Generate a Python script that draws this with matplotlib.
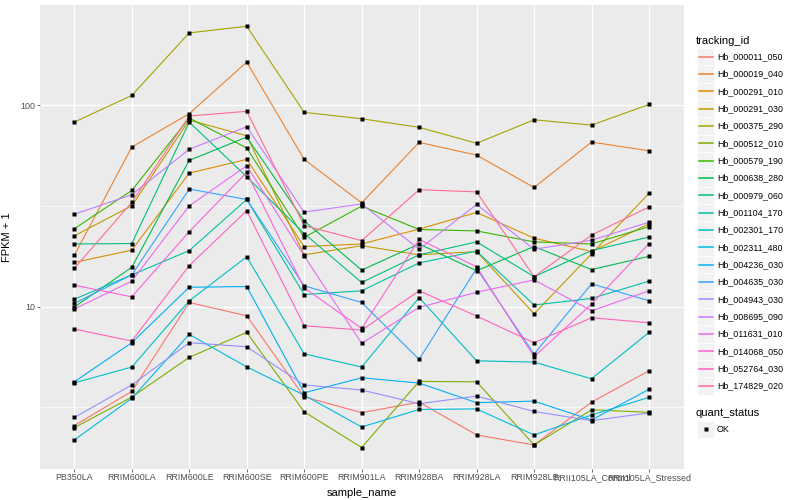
import matplotlib.pyplot as plt
import matplotlib.lines as mlines
import matplotlib.patches as mpatches
from matplotlib.ticker import FixedLocator, NullFormatter
import numpy as np

plt.rcParams['font.family'] = ['Liberation Sans', 'DejaVu Sans']

samples = ["PB350LA", "RRIM600LA", "RRIM600LE", "RRIM600SE", "RRIM600PE", "RRIM901LA",
           "RRIM928BA", "RRIM928LA", "RRIM928LE", "RRII105LA_Control", "RRII105LA_Stressed"]

tracking_ids = ["Hb_000011_050", "Hb_000019_040", "Hb_000291_010", "Hb_000291_030",
                "Hb_000375_290", "Hb_000512_010", "Hb_000579_190", "Hb_000638_280",
                "Hb_000979_060", "Hb_001104_170", "Hb_002301_170", "Hb_002311_480",
                "Hb_004236_030", "Hb_004635_030", "Hb_004943_030", "Hb_008695_090",
                "Hb_011631_010", "Hb_014068_050", "Hb_052764_030", "Hb_174829_020"]

# ggplot hue palette, 20 levels
colors = ["#F8766D", "#EA8331", "#D89000", "#C09B00", "#A3A500", "#7CAE00", "#39B600",
          "#00BB4E", "#00BF7D", "#00C1A3", "#00BFC4", "#00BAE0", "#00B0F6", "#35A2FF",
          "#9590FF", "#C77CFF", "#E76BF3", "#FA62DB", "#FF62BC", "#FF6C91"]

# FPKM + 1, one list per gene, in sample order
hb_000011_050 = [2.57, 3.80, 10.5, 9.02, 3.57, 2.98, 3.36, 2.31, 2.06, 3.36, 4.81]
hb_000019_040 = [18.0, 62.1, 90.9, 164, 53.9, 32.8, 65.5, 56.6, 39.1, 65.7, 59.5]
hb_000291_010 = [16.6, 19.1, 46.1, 53.9, 19.9, 20.5, 24.3, 29.4, 21.9, 18.8, 25.8]
hb_000291_030 = [22.5, 31.7, 84.5, 70.6, 18.1, 20.1, 18.1, 18.8, 9.23, 18.3, 36.6]
hb_000375_290 = [82.6, 112, 229, 247, 92.3, 85.8, 77.8, 64.8, 84.8, 79.8, 101]
hb_000512_010 = [2.51, 3.56, 5.61, 7.46, 3.01, 2.00, 4.26, 4.24, 2.06, 3.08, 2.99]
hb_000579_190 = [24.4, 37.8, 86.5, 61.4, 22.1, 31.6, 24.2, 23.8, 21.0, 20.5, 25.0]
hb_000638_280 = [9.97, 15.7, 53.3, 69.6, 26.7, 15.2, 20.5, 15.1, 19.9, 15.3, 17.8]
hb_000979_060 = [20.5, 20.6, 82.6, 44.2, 23.1, 13.2, 18.1, 21.0, 14.1, 19.0, 22.2]
hb_001104_170 = [10.9, 14.4, 19.0, 34.1, 11.5, 12.0, 16.5, 18.9, 10.2, 11.0, 13.4]
hb_002301_170 = [4.19, 5.02, 10.7, 17.7, 5.84, 5.02, 11.1, 5.39, 5.31, 4.39, 7.46]
hb_002311_480 = [2.18, 3.51, 7.29, 5.03, 3.64, 2.53, 3.09, 3.11, 2.31, 2.90, 3.55]
hb_004236_030 = [4.24, 6.63, 12.5, 12.6, 3.74, 4.44, 4.18, 3.34, 3.40, 2.74, 3.89]
hb_004635_030 = [10.4, 14.4, 38.4, 34.1, 12.7, 10.5, 5.48, 15.5, 5.82, 13.0, 10.7]
hb_004943_030 = [2.82, 4.09, 6.63, 6.33, 4.09, 3.86, 3.30, 3.60, 3.02, 2.72, 2.97]
hb_008695_090 = [28.8, 36.0, 60.5, 78.3, 29.5, 32.4, 19.3, 32.2, 19.3, 21.4, 26.3]
hb_011631_010 = [9.74, 13.4, 31.7, 50.1, 17.9, 6.58, 9.93, 11.8, 13.6, 9.55, 12.0]
hb_014068_050 = [12.8, 11.2, 23.6, 46.5, 12.4, 7.81, 21.6, 15.8, 5.65, 10.3, 20.6]
hb_052764_030 = [7.75, 6.76, 16.0, 30.0, 8.05, 7.66, 12.0, 8.99, 6.63, 8.82, 8.33]
hb_174829_020 = [15.5, 33.0, 88.5, 93.4, 25.3, 21.3, 38.1, 37.2, 14.1, 22.7, 31.3]

series = [hb_000011_050, hb_000019_040, hb_000291_010, hb_000291_030, hb_000375_290,
          hb_000512_010, hb_000579_190, hb_000638_280, hb_000979_060, hb_001104_170,
          hb_002301_170, hb_002311_480, hb_004236_030, hb_004635_030, hb_004943_030,
          hb_008695_090, hb_011631_010, hb_014068_050, hb_052764_030, hb_174829_020]

W, H = 800, 500
fig = plt.figure(figsize=(8, 5), dpi=100)
ax = fig.add_axes([39.8 / W, 1 - 468.6 / H, (683.5 - 39.8) / W, (468.6 - 5.2) / H])
ax.set_facecolor('#EBEBEB')

x = np.arange(len(samples))
for vals, c in zip(series, colors):
    ax.plot(x, vals, color=c, lw=0.8, zorder=2)
for vals in series:
    ax.plot(x, vals, 's', color='black', ms=2.8, mec='none', zorder=3)

ax.set_yscale('log')
lo = np.log10(min(min(s) for s in series))
hi = np.log10(max(max(s) for s in series))
pad = 0.05 * (hi - lo)
ax.set_ylim(10 ** (lo - pad), 10 ** (hi + pad))
ax.set_xlim(-0.6, len(samples) - 0.4)

ax.set_yticks([10, 100])
ax.set_yticklabels(["10", "100"])
ax.yaxis.set_minor_locator(FixedLocator([10 ** 0.5, 10 ** 1.5, 10 ** 2.5]))
ax.yaxis.set_minor_formatter(NullFormatter())
ax.set_xticks(x)
ax.set_xticklabels(samples)

ax.grid(which='major', color='white', lw=1.0)
ax.grid(which='minor', axis='y', color='white', lw=0.5)
ax.set_axisbelow(True)
for s in ax.spines.values():
    s.set_visible(False)
ax.tick_params(which='major', length=2, width=0.5, color='#333333',
               labelsize=6.4, labelcolor='#4D4D4D', pad=1.5)
ax.tick_params(which='minor', length=0)

ax.set_xlabel("sample_name", fontsize=8)
ax.set_ylabel("FPKM + 1", fontsize=8)
ax.xaxis.set_label_coords(0.5, -0.042)
ax.yaxis.set_label_coords(-0.043, 0.5)

# legend drawn by hand, ggplot style
def fx(px):
    return px / W

def fy(py):
    return 1 - py / H

fig.text(fx(696), fy(40.7), "tracking_id", fontsize=8, va='center', ha='left')
for i, (lab, c) in enumerate(zip(tracking_ids, colors)):
    yc = 56.7 + 17.33 * i
    fig.add_artist(mpatches.Rectangle((fx(697), fy(yc + 8.6)), 17 / W, 17.2 / H,
                                      transform=fig.transFigure, fc='#F2F2F2',
                                      ec='white', lw=0.6, zorder=1))
    fig.add_artist(mlines.Line2D([fx(698.5), fx(712.5)], [fy(yc), fy(yc)],
                                 transform=fig.transFigure, color=c, lw=1.1, zorder=2))
    fig.text(fx(717), fy(yc), lab, fontsize=6.4, va='center', ha='left')

fig.text(fx(696), fy(412.7), "quant_status", fontsize=8, va='center', ha='left')
fig.add_artist(mpatches.Rectangle((fx(697), fy(429.3 + 8.6)), 17 / W, 17.2 / H,
                                  transform=fig.transFigure, fc='#F2F2F2',
                                  ec='white', lw=0.6, zorder=1))
fig.add_artist(mlines.Line2D([fx(705.5)], [fy(429.3)], transform=fig.transFigure,
                             marker='s', ms=2.8, color='black', mec='none', ls='none',
                             zorder=2))
fig.text(fx(717), fy(429.3), "OK", fontsize=6.4, va='center', ha='left')

fig.savefig("out.png", dpi=100)
